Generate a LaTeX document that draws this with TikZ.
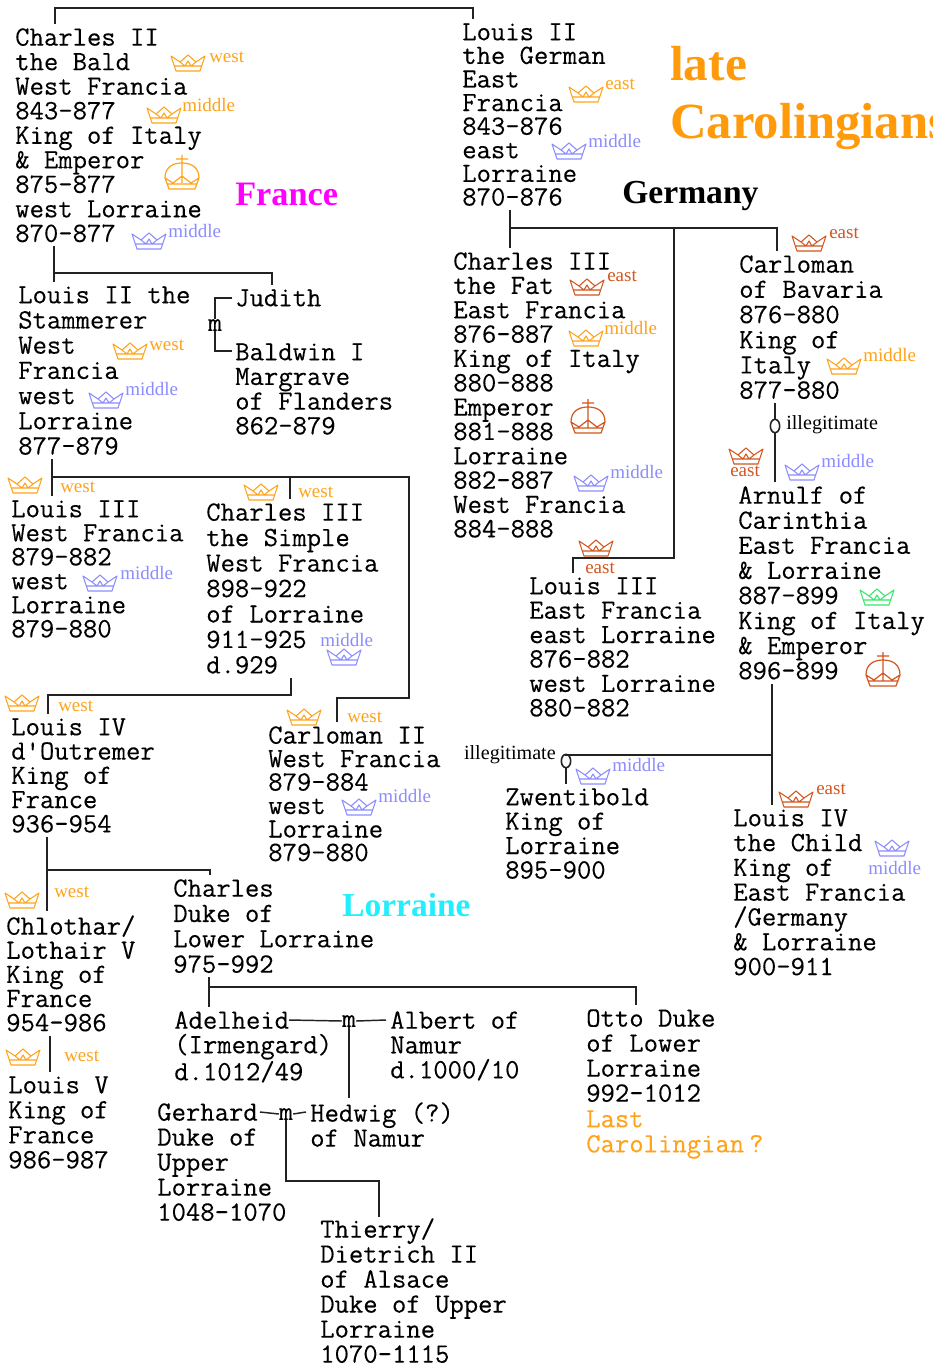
\documentclass[tikz,border=0pt]{standalone}
\usepackage{fontspec}
\setmainfont{Liberation Serif}
\setmonofont[FakeBold=0.2]{Latin Modern Mono}
\usetikzlibrary{calc,shapes.geometric}
\definecolor{corange}{HTML}{FFA31A}
\definecolor{cblue}{HTML}{8C8CFF}
\definecolor{cred}{HTML}{D2561E}
\definecolor{cgreen}{HTML}{33E86A}
\definecolor{chead}{HTML}{FF9A0A}
\definecolor{cline}{HTML}{222222}
\definecolor{cmag}{HTML}{FF00FF}
\definecolor{ccy}{HTML}{22EEFF}
\newcounter{lb}
\tikzset{
  person/.style={align=left,anchor=north west,inner xsep=0pt,inner ysep=3pt,text=black,
    font={\ttfamily\fontsize{20.9pt}{#1}\selectfont},execute at begin node={\rule{0pt}{12.5pt}}},
  marr/.style={inner sep=0pt,font={\ttfamily\fontsize{20.25pt}{20pt}\selectfont}},
  lab/.style={inner sep=0pt,anchor=west,font={\fontsize{14.25pt}{15pt}\selectfont}},
  note/.style={inner sep=0pt,anchor=west,text=black,font={\fontsize{15.1pt}{15pt}\selectfont}},
  head/.style={inner sep=0pt,anchor=west,font={\bfseries\fontsize{#1}{#1}\selectfont}},
  link/.style={draw=cline,line width=1.1pt},
  ring/.style={draw=cline,line width=1.2pt,ellipse,inner sep=0pt,minimum width=7pt,minimum height=10pt},
  crown/.pic={
    \draw[line width=.8pt,pic actions,line join=round]
      (-17,-7) -- (-12,8) -- (12,8) -- (17,-7) -- (8,-1) -- (0,-8) -- (-8,-1) -- cycle
      (-14,3) -- (14,3) (-8,-1) -- (-3,3) (8,-1) -- (3,3) (-3,3) -- (0,-2) -- (3,3);
  },
  orb/.pic={
    \draw[line width=.9pt,pic actions,line join=round]
      (0,-17) -- (0,11) (-6,-13) -- (6,-13)
      (-17,6) .. controls (-17,-5) and (-9,-9) .. (0,-9) .. controls (9,-9) and (17,-5) .. (17,6)
      -- (13,17) -- (-13,17) -- cycle
      (-17,6) -- (-9,11) -- (0,4) -- (9,11) -- (17,6)
      (-15,12) -- (15,12);
  }
}
% name, x, y of first line centre, line skip, lines
\newcommand\person[5]{\node[person=#4] (#1) at (#2,{#3-13}) {#5};}
% crown x, y, colour, label x, y, text
\newcommand\cw[6]{\stepcounter{lb}\pic[color=#3] at (#1,#2) {crown};
  \node[lab,text=#3] (lab\thelb) at (#4,#5) {#6};}
\newcommand\cn[3]{\pic[color=#3] at (#1,#2) {crown};}
\begin{document}
\begin{tikzpicture}[x=0.75pt,y=-0.75pt]
\useasboundingbox (0,0) rectangle (932,1369);
\clip (0,0) rectangle (932,1369);
\fill[white] (0,0) rectangle (932,1369);

% people
\person{charlesbald}{15}{37}{18.4pt}{Charles II\\the Bald\\West Francia\\843–877\\King of Italy\\\& Emperor\\875–877\\west Lorraine\\870–877}
\person{louisgerman}{462}{32}{17.7pt}{Louis II\\the German\\East\\Francia\\843–876\\east\\Lorraine\\870–876}
\person{louisstam}{18}{295}{18.9pt}{Louis II the\\Stammerer\\West\\Francia\\west\\Lorraine\\877–879}
\person{judith}{235}{298}{18pt}{Judith}
\person{baldwin}{235}{352}{18.5pt}{Baldwin I\\Margrave\\of Flanders\\862–879}
\person{louisiii}{11}{509}{18pt}{Louis III\\West Francia\\879–882\\west\\Lorraine\\879–880}
\person{charlessimple}{206}{512}{19.1pt}{Charles III\\the Simple\\West Francia\\898–922\\of Lorraine\\911–925\\d.929}
\person{carlomanii}{268}{735}{17.6pt}{Carloman II\\West Francia\\879–884\\west\\Lorraine\\879–880}
\person{louisiv}{11}{727}{18.2pt}{Louis IV\\d'Outremer\\King of\\France\\936–954}
\person{chlothar}{6}{924}{18.1pt}{Chlothar/\\Lothair V\\King of\\France\\954–986}
\person{louisv}{8}{1085}{18.75pt}{Louis V\\King of\\France\\986–987}
\person{charleslower}{173}{888}{19pt}{Charles\\Duke of\\Lower Lorraine\\975–992}
\person{adelheid}{174}{1020}{18.4pt}{Adelheid\\(Irmengard)\\d.1012/49}
\person{albert}{390}{1020}{18.6pt}{Albert of\\Namur\\d.1000/10}
\person{otto}{586}{1018}{18.75pt}{Otto Duke\\of Lower\\Lorraine\\992–1012}
\person{last}{586}{1119}{18.75pt}{\textcolor{corange}{Last}\\\textcolor{corange}{Carolingian\kern-7pt\ ?}}
\person{gerhard}{157}{1112}{18.75pt}{Gerhard\\Duke of\\Upper\\Lorraine\\1048–1070}
\person{hedwig}{310}{1111}{18.75pt}{Hedwig (?)\\of Namur}
\person{thierry}{320}{1227}{18.75pt}{Thierry/\\Dietrich II\\of Alsace\\Duke of Upper\\Lorraine\\1070–1115}
\person{charlesfat}{453}{261}{18.25pt}{Charles III\\the Fat\\East Francia\\876–887\\King of Italy\\880–888\\Emperor\\881–888\\Lorraine\\882–887\\West Francia\\884–888}
\person{carlomanbav}{739}{264}{18.9pt}{Carloman\\of Bavaria\\876–880\\King of\\Italy\\877–880}
\person{louisiiieast}{529}{586}{18.3pt}{Louis III\\East Francia\\east Lorraine\\876–882\\west Lorraine\\880–882}
\person{arnulf}{738}{495}{18.8pt}{Arnulf of\\Carinthia\\East Francia\\\& Lorraine\\887–899\\King of Italy\\\& Emperor\\896–899}
\person{zwentibold}{505}{797}{18.3pt}{Zwentibold\\King of\\Lorraine\\895–900}
\person{louischild}{733}{818}{18.6pt}{Louis IV\\the Child\\King of\\East Francia\\/Germany\\\& Lorraine\\900–911}

% marriage marks
\node[marr] (m0) at (215,325) {m};
\node[marr] (m1) at (349,1021) {m};
\node[marr] (m2) at (286,1114) {m};
\node[ring] (oa) at (775,426) {};
\node[ring] (oz) at (566,761) {};
\node[note] (illa) at (786,425) {illegitimate};
\node[note,anchor=east] (illz) at (556,755) {illegitimate};

% junctions
\coordinate (jtop) at (264,8);
\coordinate (jb) at (54,273);
\coordinate (jl) at (52,477);
\coordinate (jr1) at (409,477);
\coordinate (jr2) at (409,698);
\coordinate (js) at (48,695);
\coordinate (jd) at (47,870);
\coordinate (jc) at (209,987);
\coordinate (jg1) at (510,228);
\coordinate (jg2) at (674,228);
\coordinate (jg3) at (674,558);
\coordinate (ja) at (772,755);
\coordinate (jt) at (379,1181);

% connectors
\draw[link] ($(charlesbald.north west)+(40,0)$) |- (jtop) -| ($(louisgerman.north west)+(11,0)$);
\draw[link] ($(charlesbald.south west)+(39,0)$) -- ($(louisstam.north west)+(36,0)$);
\draw[link] (jb) -| ($(judith.north west)+(37,0)$);
\draw[link] ($(judith.west)+(-3,0)$) -| (m0.north);
\draw[link] ($(baldwin.north west)+(-3,12)$) -| (m0.south);
\draw[link] ($(louisstam.south west)+(34,0)$) -- ($(louisiii.north west)+(41,0)$);
\draw[link] (jl) -| ($(charlessimple.north west)+(84,0)$);
\draw[link] (jl) -- (jr1) -- (jr2) -| ($(carlomanii.north west)+(69,0)$);
\draw[link] ($(charlessimple.south west)+(85,0)$) |- (js) -- ($(louisiv.north west)+(37,0)$);
\draw[link] ($(louisiv.south west)+(36,0)$) -- ($(chlothar.north west)+(41,0)$);
\draw[link] (jd) -| ($(charleslower.north west)+(37,0)$);
\draw[link] ($(chlothar.south west)+(44,0)$) -- ($(louisv.north west)+(42,0)$);
\draw[link] ($(charleslower.south west)+(36,0)$) -- ($(adelheid.north west)+(35,0)$);
\draw[link] (jc) -| ($(otto.north west)+(50,0)$);
\draw[link] ($(adelheid.north west)+(115,13)$) -- (m1.west);
\draw[link] (m1.east) -- ($(albert.north west)+(-4,13)$);
\draw[link] (m1.south) -- ($(hedwig.north west)+(39,0)$);
\draw[link] ($(gerhard.north west)+(103,13)$) -- (m2.west);
\draw[link] (m2.east) -- ($(hedwig.north west)+(-4,14)$);
\draw[link] (m2.south) |- (jt) -- ($(thierry.north west)+(59,3)$);
\draw[link] ($(louisgerman.south west)+(48,0)$) -- ($(charlesfat.north west)+(57,0)$);
\draw[link] (jg1) -| ($(carlomanbav.north west)+(38,0)$);
\draw[link] (jg2) -- (jg3) -| ($(louisiiieast.north west)+(44,0)$);
\draw[link] ($(carlomanbav.south west)+(36,0)$) -- (oa) -- ($(arnulf.north west)+(37,0)$);
\draw[link] ($(arnulf.south west)+(34,0)$) -- ($(louischild.north west)+(39,0)$);
\draw[link] (ja) -| (oz) -- ($(zwentibold.north west)+(61,0)$);

% crowns
\cw{188}{63}{corange}{209}{57}{west}
\cw{164}{115}{corange}{182}{105}{middle}
\pic[color=corange] at (182,172) {orb};
\cw{149}{241}{cblue}{168}{231}{middle}
\cw{586}{94}{corange}{605}{84}{east}
\cw{569}{151}{cblue}{588}{141}{middle}
\cw{130}{351}{corange}{149}{345}{west}
\cw{106}{400}{cblue}{125}{389}{middle}
\cw{25}{485}{corange}{60}{487}{west}
\cw{100}{583}{cblue}{120}{573}{middle}
\cw{261}{492}{corange}{298}{492}{west}
\cw{344}{657}{cblue}{320}{640}{middle}
\cw{22}{703}{corange}{58}{706}{west}
\cw{304}{717}{corange}{347}{717}{west}
\cw{359}{807}{cblue}{378}{796}{middle}
\cw{22}{900}{corange}{54}{892}{west}
\cw{23}{1057}{corange}{64}{1056}{west}
\cw{593}{776}{cblue}{612}{765}{middle}
\cw{587}{287}{cred}{607}{276}{east}
\cw{586}{338}{corange}{604}{328}{middle}
\pic[color=cred] at (588,416) {orb};
\cw{591}{483}{cblue}{610}{472}{middle}
\cw{596}{548}{cred}{585}{568}{east}
\cw{809}{243}{cred}{829}{233}{east}
\cw{844}{366}{corange}{863}{355}{middle}
\cw{746}{456}{cred}{730}{471}{east}
\cw{802}{472}{cblue}{821}{461}{middle}
\cn{877}{597}{cgreen}
\pic[color=cred] at (883,669) {orb};
\cw{796}{799}{cred}{816}{789}{east}
\cw{892}{848}{cblue}{868}{868}{middle}

% headings
\node[head=37pt,text=chead] (late) at (670,64) {late};
\node[head=38pt,text=chead] (carol) at (670,127) {Carolingians};
\node[head=25.7pt,text=cmag] (france) at (235,194) {France};
\node[head=25.2pt,text=black] (germany) at (622,196) {Germany};
\node[head=25.1pt,text=ccy] (lorraine) at (342,905) {Lorraine};
\end{tikzpicture}
\end{document}
